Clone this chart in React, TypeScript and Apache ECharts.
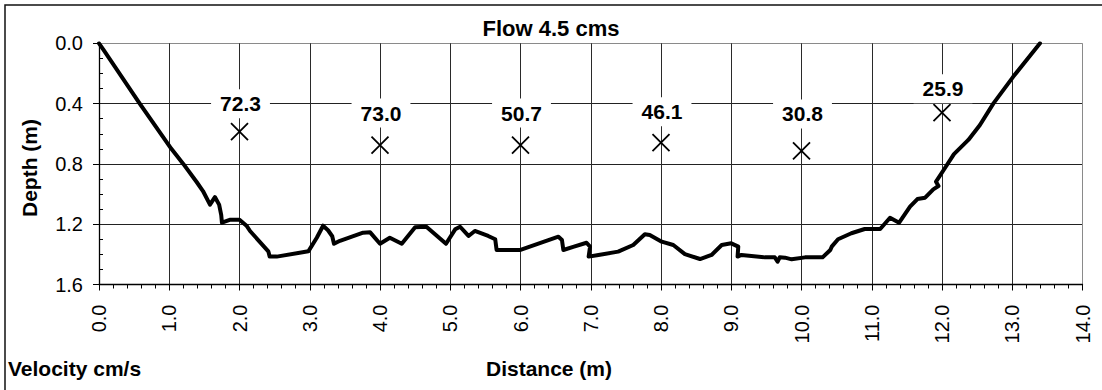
import React, { useEffect, useRef } from "react";
import * as echarts from "echarts";

// Cross-section profile (distance m, depth m)
const profileDistance = [
  0, 0.06, 0.58, 1.03, 1.2, 1.39, 1.48, 1.58, 1.65, 1.71, 1.74, 1.75, 1.87, 2.0, 2.1, 2.15, 2.41, 2.43, 2.53,
  2.98, 3.1, 3.19, 3.26, 3.32, 3.345, 3.43, 3.76, 3.86, 4.0, 4.14, 4.31, 4.5, 4.66, 4.94, 5.07, 5.14, 5.26,
  5.35, 5.54, 5.64, 5.66, 6.0, 6.54, 6.59, 6.61, 6.75, 6.94, 6.99, 6.97, 7.11, 7.39, 7.605, 7.77, 7.84, 8.01,
  8.175, 8.34, 8.555, 8.72, 8.864, 9.0, 9.1, 9.09, 9.145, 9.48, 9.62, 9.66, 9.69, 9.765, 9.86, 10.05, 10.3,
  10.41, 10.43, 10.52, 10.71, 10.9, 11.12, 11.26, 11.39, 11.545, 11.65, 11.76, 11.876, 11.95, 11.915, 12.04,
  12.17, 12.375, 12.54, 12.73, 13.015, 13.395,
];
const profileDepth = [
  0, 0.04, 0.4, 0.7, 0.8, 0.92, 0.98, 1.07, 1.02, 1.07, 1.14, 1.19, 1.17, 1.17, 1.21, 1.245, 1.38, 1.415, 1.415,
  1.38, 1.29, 1.21, 1.24, 1.28, 1.33, 1.31, 1.256, 1.254, 1.33, 1.29, 1.33, 1.22, 1.217, 1.33, 1.234, 1.217, 1.278,
  1.245, 1.278, 1.3, 1.371, 1.371, 1.283, 1.305, 1.371, 1.35, 1.323, 1.349, 1.415, 1.404, 1.382, 1.338, 1.267, 1.272, 1.316,
  1.338, 1.398, 1.431, 1.404, 1.338, 1.327, 1.349, 1.415, 1.404, 1.42, 1.42, 1.449, 1.42, 1.422, 1.433, 1.42, 1.42,
  1.371, 1.349, 1.3, 1.26, 1.232, 1.232, 1.157, 1.19, 1.084, 1.033, 1.024, 0.969, 0.947, 0.918, 0.829,
  0.735, 0.641, 0.542, 0.4, 0.221, 0,
];

// Velocity measurement points
const velocityDistance = [2, 4, 6, 8, 10, 12];
const velocityDepth = [0.586, 0.675, 0.675, 0.659, 0.714, 0.46];
const velocityLabels = ["72.3", "73.0", "50.7", "46.1", "30.8", "25.9"];

// Axis tick settings
const xMin = 0, xMax = 14, xInterval = 1;
const yMin = 0, yMax = 1.6, yInterval = 0.4;

// label vertical offsets (style)
const labelOffsets = [-28, -32, -32, -31, -37, -24];

const FONT = "'Liberation Sans', Arial, sans-serif";

export default function App() {
  const ref = useRef<HTMLDivElement>(null);
  useEffect(() => {
    if (!ref.current) return;
    const chart = echarts.init(ref.current, undefined, { renderer: "svg" });
    const profile = profileDistance.map((x, i) => [x, profileDepth[i]]);
    const velocity = velocityDistance.map((x, i) => ({
      value: [x, velocityDepth[i]],
      label: { offset: [1, labelOffsets[i]] },
      name: velocityLabels[i],
    }));
    const xCount = Math.round((xMax - xMin) / xInterval) + 1;
    const xSplitColors = Array.from({ length: xCount }, (_, i) => (i === xCount - 1 ? "#8a8a8a" : "#2a2a2a"));
    const ySplitColors = ["#8a8a8a", "#222", "#222", "#222", "#222"];
    const option: any = {
      animation: false,
      backgroundColor: "#fff",
      textStyle: { fontFamily: FONT },
      grid: { left: 99, top: 43.3, right: 19.5, bottom: 105.5, containLabel: false },
      xAxis: {
        type: "value",
        position: "bottom",
        min: xMin,
        max: xMax,
        interval: xInterval,
        axisLine: { show: true, onZero: false, lineStyle: { color: "#000", width: 1.3 } },
        axisTick: { show: true, length: 6, lineStyle: { color: "#000" } },
        minorTick: { show: true, splitNumber: 5, length: 4, lineStyle: { color: "#000" } },
        splitLine: { show: true, lineStyle: { color: xSplitColors, width: 1 } },
        axisLabel: {
          rotate: 90,
          margin: 20,
          fontSize: 20,
          color: "#000",
          fontFamily: FONT,
          formatter: (v: number) => v.toFixed(1),
        },
      },
      yAxis: {
        type: "value",
        inverse: true,
        min: yMin,
        max: yMax,
        interval: yInterval,
        axisLine: { show: true, onZero: false, lineStyle: { color: "#000", width: 1.3 } },
        axisTick: { show: true, length: 6, lineStyle: { color: "#000" } },
        minorTick: { show: true, splitNumber: 4, length: -4, lineStyle: { color: "#000" } },
        splitLine: { show: true, lineStyle: { color: ySplitColors, width: 1 } },
        axisLabel: {
          margin: 16,
          fontSize: 20,
          color: "#000",
          fontFamily: FONT,
          formatter: (v: number) => v.toFixed(1),
        },
      },
      series: [
        {
          type: "line",
          data: profile,
          showSymbol: false,
          symbol: "none",
          smooth: false,
          lineStyle: { color: "#000", width: 4, join: "round", cap: "round" },
          z: 3,
        },
        {
          type: "scatter",
          data: velocity,
          symbol: "path://M0,0L10,10M0,10L10,0",
          symbolSize: 17,
          itemStyle: { color: "rgba(0,0,0,0)", borderColor: "#000", borderWidth: 1.8, opacity: 1 },
          label: {
            show: true,
            position: "inside",
            formatter: (p: any) => p.name,
            fontSize: 21,
            fontWeight: "bold",
            fontFamily: FONT,
            color: "#000",
            backgroundColor: "#fff",
            padding: [4, 9],
          },
          z: 4,
        },
      ],
      graphic: [
        {
          type: "rect",
          silent: true,
          shape: { x: 5, y: 5, width: 1300, height: 600 },
          style: { fill: "none", stroke: "#111", lineWidth: 1.5 },
        },
        {
          type: "text",
          x: 551,
          y: 28,
          style: {
            text: "Flow 4.5 cms",
            fontSize: 22,
            fontWeight: "bold",
            fontFamily: FONT,
            fill: "#000",
            align: "center",
            verticalAlign: "middle",
          },
        },
        {
          type: "text",
          x: 29,
          y: 168,
          rotation: Math.PI / 2,
          style: {
            text: "Depth (m)",
            fontSize: 21,
            fontWeight: "bold",
            fontFamily: FONT,
            fill: "#000",
            align: "center",
            verticalAlign: "middle",
          },
        },
        {
          type: "text",
          x: 8,
          y: 368,
          style: {
            text: "Velocity cm/s",
            fontSize: 21,
            fontWeight: "bold",
            fontFamily: FONT,
            fill: "#000",
            align: "left",
            verticalAlign: "middle",
          },
        },
        {
          type: "text",
          x: 549,
          y: 368,
          style: {
            text: "Distance (m)",
            fontSize: 21,
            fontWeight: "bold",
            fontFamily: FONT,
            fill: "#000",
            align: "center",
            verticalAlign: "middle",
          },
        },
      ],
    };
    chart.setOption(option);
    return () => chart.dispose();
  }, []);
  return <div ref={ref} style={{ position: "absolute", left: 0, top: 0, width: 1102, height: 390 }} />;
}
